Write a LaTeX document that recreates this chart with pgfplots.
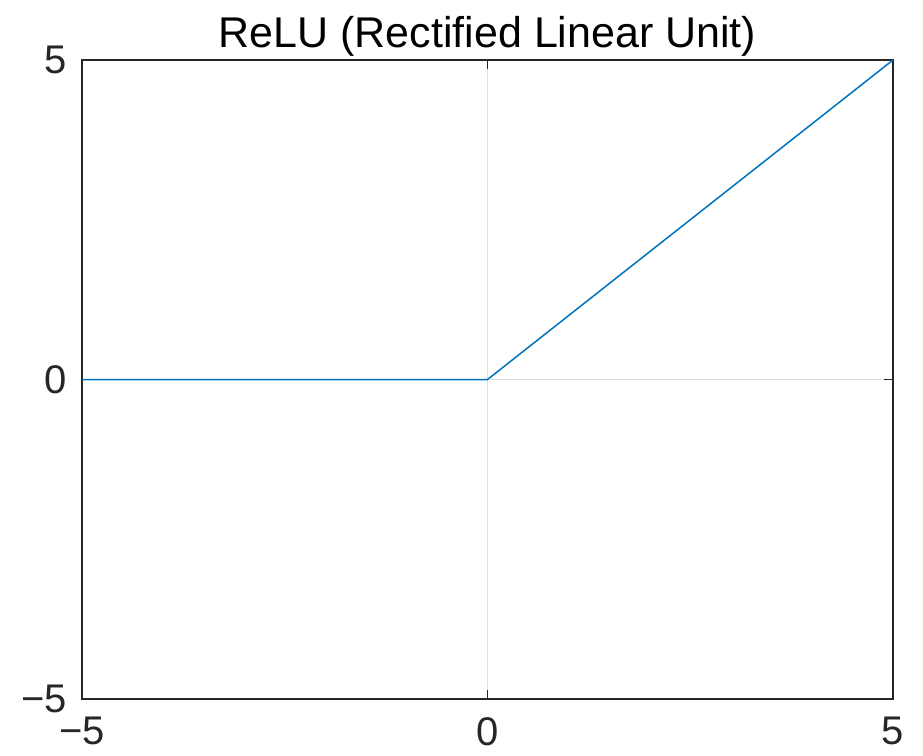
\documentclass[border=0pt]{standalone}
\usepackage{fontspec}
\setmainfont{Liberation Sans}
\usepackage{pgfplots}
\usetikzlibrary{calc}
\pgfplotsset{compat=1.18}
\definecolor{mblue}{RGB}{0,114,189}
\definecolor{axgray}{RGB}{38,38,38}
\begin{document}
\begin{tikzpicture}
\begin{axis}[
  scale only axis,
  width=811pt, height=639pt,
  xmin=-5, xmax=5, ymin=-5, ymax=5,
  xtick={-5,0,5}, ytick={-5,0,5},
  xticklabels={−5,0,5}, yticklabels={−5,0,5},
  tick align=inside,
  major tick length=9pt,
  tick style={axgray, line width=1.2pt},
  axis line style={axgray, line width=1.6pt},
  grid=major,
  grid style={gray!25, line width=1pt},
  ticklabel style={font=\fontsize{40}{48}\selectfont, text=axgray, inner sep=4pt},
  xticklabel style={yshift=-14pt},
  yticklabel style={xshift=-11pt},
  title={ReLU (Rectified Linear Unit)},
  title style={font=\fontsize{43}{50}\selectfont, yshift=-6pt},
  /pgf/number format/assume math mode=true,
]
\addplot[mblue, line width=1.5pt] coordinates {(-5,0) (0,0) (5,5)};
\end{axis}
\pgfresetboundingbox
\path[use as bounding box] ($(current axis.south west)+(-82pt,-56pt)$) rectangle ($(current axis.north east)+(30pt,60pt)$);
\end{tikzpicture}
\end{document}
